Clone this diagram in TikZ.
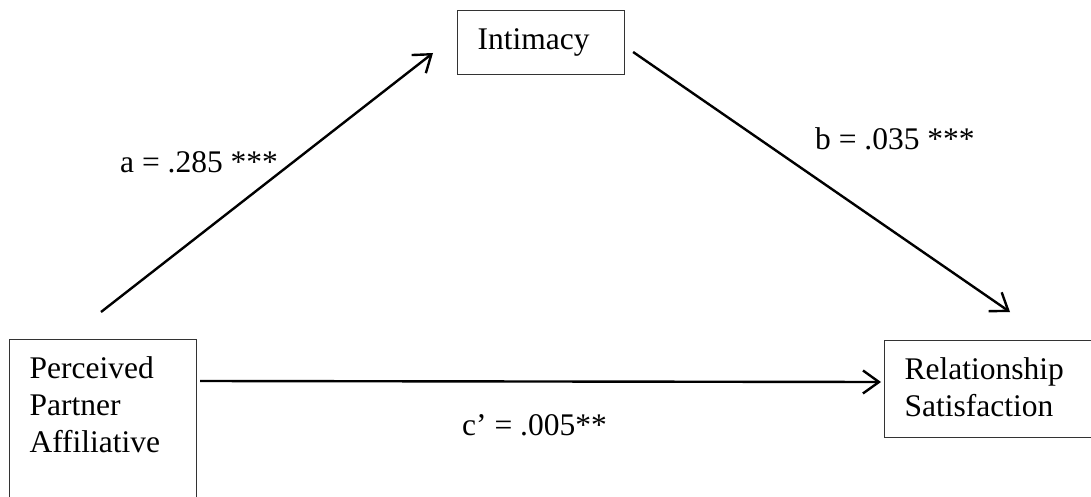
\documentclass[tikz,border=0pt]{standalone}
\usepackage{fontspec}
\setmainfont{Liberation Serif}
\usetikzlibrary{arrows.meta}

\begin{document}
\begin{tikzpicture}[
  x=1pt, y=-1pt,
  box/.style={
    draw=black!80, line width=1.1pt,
    font=\fontsize{31.5}{36.8}\selectfont,
    anchor=north west, align=left,
    inner xsep=20pt, inner ysep=17.5pt,
    text height=21.5pt,
  },
  coef/.style={
    font=\fontsize{31.5}{36.8}\selectfont,
    anchor=base west, inner sep=0pt,
  },
  effect/.style={
    line width=2.4pt,
    -{Straight Barb[length=16pt, width=23pt, line width=2.4pt]},
  },
]

\useasboundingbox (0,0) rectangle (1091,497);

% ── variables ────────────────────────────────────────────
\node[box, text width=147pt, text depth=125pt] (ppa) at (9,339)
  {Perceived\\Partner\\Affiliative};
\node[box, text width=127pt, text depth=7.5pt] (int) at (457,10) {Intimacy};
\node[box, text width=200pt, text depth=40.5pt] (rs) at (884,340)
  {Relationship\\Satisfaction};

% ── paths a, b, c' ───────────────────────────────────────
\draw[effect] ([shift={(92,-27)}]ppa.north west) -- ([shift={(-24,43)}]int.north west);
\draw[effect] ([shift={(8,42)}]int.north east) -- ([shift={(126,-28)}]rs.north west);
\draw[effect] ([shift={(3,42)}]ppa.north east) -- ([shift={(-3,42)}]rs.north west);

% ── coefficients ─────────────────────────────────────────
\node[coef] (pa) at (120,173) {a = .285 ***};
\node[coef] (pb) at (815,150) {b = .035 ***};
\node[coef] (pc) at (462,435) {c’ = .005**};

\end{tikzpicture}
\end{document}
